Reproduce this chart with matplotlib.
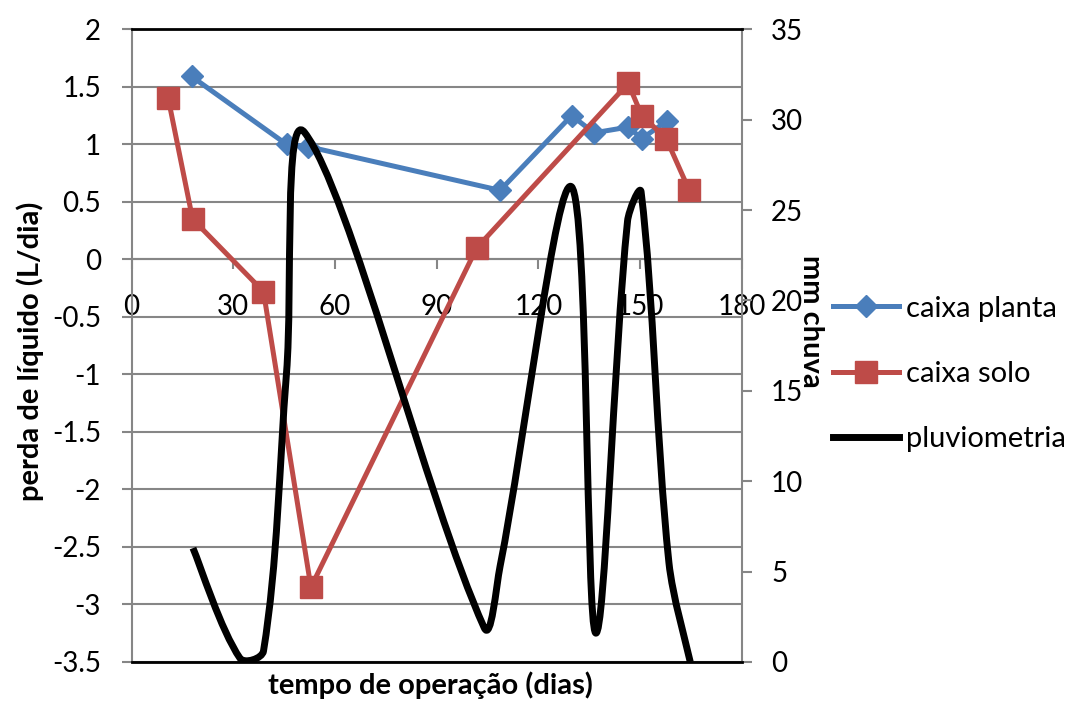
import numpy as np
import matplotlib
matplotlib.use('Agg')
import matplotlib.pyplot as plt
from matplotlib.path import Path
from matplotlib.patches import PathPatch
from matplotlib.lines import Line2D

plt.rcParams['font.family'] = ['Lato', 'DejaVu Sans']
plt.rcParams['axes.unicode_minus'] = False

# caixa planta (L/dia)
dias_planta = [17.7, 45.7, 52.1, 108.7, 129.8, 136.4, 146.5, 150.5, 157.8]
perda_planta = [1.59, 1.0, 0.98, 0.6, 1.25, 1.1, 1.15, 1.05, 1.2]

# caixa solo (L/dia)
dias_solo = [10.8, 18.0, 38.9, 52.9, 101.8, 146.5, 150.5, 157.7, 164.5]
perda_solo = [1.4, 0.35, -0.28, -2.85, 0.1, 1.53, 1.25, 1.05, 0.6]

# pluviometria (mm)
dias_chuva = [18.1, 32.0, 38.9, 45.7, 51.0, 104.0, 108.7, 129.7, 136.9, 146.3, 150.3, 158.5, 164.8]
mm_chuva = [6.3, 0.2, 0.6, 16.0, 29.3, 1.9, 5.3, 26.3, 1.6, 24.4, 26.0, 5.5, 0.0]

gray = '#868686'
blue = '#4A7EBB'
red = '#BE4B48'


def smooth_path(xs, ys, sx, sy):
    # bezier pelos pontos (estilo linha suavizada do Excel)
    p = np.column_stack([xs, ys]).astype(float)
    s = np.array([sx, sy])
    n = len(p)
    verts = [tuple(p[0])]
    codes = [Path.MOVETO]
    for i in range(n - 1):
        a = p[i - 1] if i > 0 else p[i]
        b, c = p[i], p[i + 1]
        d = p[i + 2] if i + 2 < n else p[i + 1]
        l_ab = np.linalg.norm((b - a) * s)
        l_bc = np.linalg.norm((c - b) * s)
        l_cd = np.linalg.norm((d - c) * s)
        w1 = l_bc / (l_ab + l_bc) if l_ab > 0 else 0.5
        w2 = l_bc / (l_bc + l_cd) if l_cd > 0 else 0.5
        c1 = b + (c - a) * w1 / 3
        c2 = c - (d - b) * w2 / 3
        verts += [tuple(c1), tuple(c2), tuple(c)]
        codes += [Path.CURVE4] * 3
    return Path(verts, codes)


fig = plt.figure(figsize=(10.7, 7.09), dpi=100)
ax = fig.add_axes([131.6 / 1070, 1 - 662 / 709, 610.2 / 1070, 632.7 / 709])

ax.plot(dias_planta, perda_planta, color=blue, lw=3.6, marker='D', ms=11,
        label='caixa planta', zorder=3)
ax.plot(dias_solo, perda_solo, color=red, lw=3.6, marker='s', ms=16,
        label='caixa solo', zorder=3)

ax.set_xlim(0, 180)
ax.set_ylim(-3.5, 2)
ax.set_xticks(np.arange(0, 181, 30))
yt = np.arange(-3.5, 2.01, 0.5)
ax.set_yticks(yt)
ax.set_yticklabels([f'{v:g}' for v in yt])
ax.yaxis.grid(True, color=gray, lw=1.5)
ax.set_axisbelow(True)

ax.spines['bottom'].set_position(('data', 0))
ax.spines['bottom'].set_color(gray)
ax.spines['bottom'].set_linewidth(1.5)
ax.spines['left'].set_color(gray)
ax.spines['left'].set_linewidth(1.5)
ax.spines['top'].set_visible(False)
ax.spines['right'].set_visible(False)
ax.tick_params(axis='x', direction='out', length=7, width=1.5, color=gray,
               pad=18, labelsize=20)
ax.tick_params(axis='y', direction='out', length=7, width=1.5, color=gray,
               pad=15, labelsize=20)

ax2 = ax.twinx()
ax2.set_ylim(0, 35)
ax2.set_yticks(np.arange(0, 36, 5))
ax2.tick_params(axis='y', direction='out', length=7, width=1.5, color=gray,
                pad=14, labelsize=20)
ax2.spines['right'].set_color(gray)
ax2.spines['right'].set_linewidth(1.5)
ax2.spines['left'].set_visible(False)
ax2.spines['top'].set_color('black')
ax2.spines['top'].set_linewidth(2)
ax2.spines['bottom'].set_color('black')
ax2.spines['bottom'].set_linewidth(2)

sx = 610.2 / 180
sy = 632.7 / 35
curva = PathPatch(smooth_path(dias_chuva, mm_chuva, sx, sy), fill=False,
                  edgecolor='black', lw=5, joinstyle='round', capstyle='butt')
ax2.add_patch(curva)

fig.text(30 / 1070, 1 - 351 / 709, 'perda de líquido (L/dia)', rotation=90,
         ha='center', va='center', fontsize=21, fontweight='bold')
fig.text(811 / 1070, 1 - 321 / 709, 'mm chuva', rotation=270,
         ha='center', va='center', fontsize=21, fontweight='bold')
fig.text(430 / 1070, 1 - 685 / 709, 'tempo de operação (dias)',
         ha='center', va='center', fontsize=21, fontweight='bold')

handles = [
    Line2D([], [], color=blue, lw=3.6, marker='D', ms=11),
    Line2D([], [], color=red, lw=3.6, marker='s', ms=16),
    Line2D([], [], color='black', lw=5),
]
fig.legend(handles, ['caixa planta', 'caixa solo', 'pluviometria'],
           loc='center left', bbox_to_anchor=(833 / 1070, 1 - 374 / 709),
           frameon=False, fontsize=21, borderpad=0, borderaxespad=0,
           handlelength=2.25, handletextpad=0.25, labelspacing=1.35)

fig.savefig('out.png', dpi=100)
